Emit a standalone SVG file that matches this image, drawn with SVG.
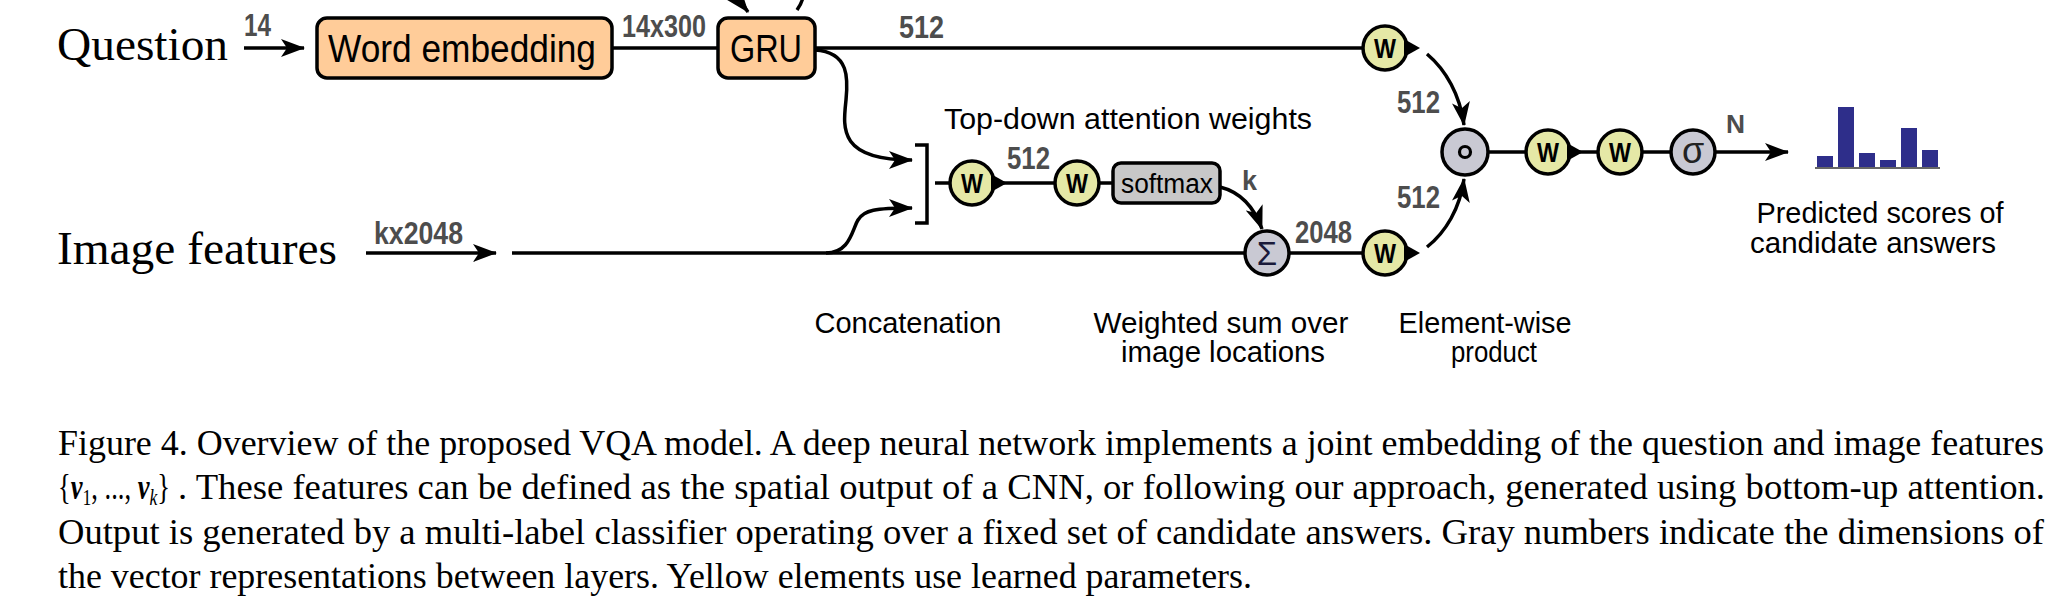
<svg xmlns="http://www.w3.org/2000/svg" width="2058" height="612" viewBox="0 0 2058 612">
<defs>
<marker id="ah" viewBox="0 0 24 18" refX="23" refY="9" markerWidth="24" markerHeight="18" markerUnits="userSpaceOnUse" orient="auto">
<path d="M0,0 L24,9 L0,18 L6,9 Z" fill="#000"/>
</marker>
<style>
.conn{fill:none;stroke:#000;stroke-width:3.5}
.arr{marker-end:url(#ah)}
.box{fill:#FFCC99;stroke:#000;stroke-width:3.5}
.sm{fill:#C8C8C8;stroke:#000;stroke-width:3.5}
.w circle{fill:#E5E8A6;stroke:#000;stroke-width:3.5}
.g circle{fill:#C9C9D3;stroke:#000;stroke-width:3.5}
.tip{fill:#000}
.wt{font-family:"Liberation Sans",Arial,sans-serif;font-weight:bold;font-size:27px;text-anchor:middle;fill:#000}
.dim{font-family:"Liberation Sans",Arial,sans-serif;font-weight:bold;font-size:31px;fill:#4D4D4D}
.lbl{font-family:"Liberation Sans",Arial,sans-serif;font-size:30px;fill:#000}
.big{font-family:"Liberation Serif","Times New Roman",serif;font-size:47px;fill:#000}
.cap{font-family:"Liberation Serif","Times New Roman",serif;font-size:36px;fill:#000}
.mid{text-anchor:middle}
</style>
</defs>

<g id="connectors">
<path class="conn arr" d="M244 48 L304 48"/>
<path class="conn" d="M612 48 L718 48"/>
<path class="conn" d="M815 48 L1363 48"/>
<path class="conn arr" d="M797 10 C815 -15 790 -30 768 -28 C745 -26 732 -8 748 12"/>
<path class="conn arr" d="M815 50 C850 52 848 80 846 100 C843 128 838 160 912 160"/>
<path class="conn arr" d="M826 253 C850 253 852 230 858 220 C864 210 875 208 912 208"/>
<path class="conn" d="M915 145 L927 145 L927 223 L915 223"/>
<path class="conn arr" d="M366 253 L496 253"/>
<path class="conn" d="M512 253 L1385 253"/>
<path class="conn" d="M935 183 L1113 183"/>
<path class="conn arr" d="M1220 187 C1240 192 1254 207 1262 229"/>
<path class="conn arr" d="M1427 54 C1446 70 1460 95 1464 125"/>
<path class="conn arr" d="M1427 247 C1446 232 1460 208 1464 179"/>
<path class="conn" d="M1465 152 L1693 152"/>
<path class="conn arr" d="M1715 152 L1788 152"/>
</g>

<g id="question">
<text class="big" x="57" y="60" textLength="171" lengthAdjust="spacingAndGlyphs">Question</text>
</g>
<g id="image-features">
<text class="big" x="57" y="264" textLength="280" lengthAdjust="spacingAndGlyphs">Image features</text>
</g>

<g id="word-embedding">
<rect class="box" x="317" y="18" width="295" height="60" rx="10"/>
<text class="lbl mid" x="462" y="62" textLength="268" lengthAdjust="spacingAndGlyphs" style="font-size:39px">Word embedding</text>
</g>

<g id="gru">
<rect class="box" x="718" y="18" width="97" height="60" rx="10"/>
<text class="lbl mid" x="766" y="62" textLength="72" lengthAdjust="spacingAndGlyphs" style="font-size:39px">GRU</text>
</g>

<g id="w-question" class="w">
<circle cx="1385" cy="48" r="22"/>
<path class="tip" d="M1404 39 L1420 48 L1404 57 Z"/>
<text class="wt" x="1385" y="58" textLength="22" lengthAdjust="spacingAndGlyphs">W</text>
</g>

<g id="w-att1" class="w">
<circle cx="972" cy="183" r="22"/>
<path class="tip" d="M991 174 L1007 183 L991 192 Z"/>
<text class="wt" x="972" y="193" textLength="22" lengthAdjust="spacingAndGlyphs">W</text>
</g>

<g id="w-att2" class="w">
<circle cx="1077" cy="183" r="22"/>
<text class="wt" x="1077" y="193" textLength="22" lengthAdjust="spacingAndGlyphs">W</text>
</g>

<g id="softmax">
<rect class="sm" x="1113" y="163" width="107" height="40" rx="8"/>
<text class="lbl mid" x="1167" y="193" textLength="92" lengthAdjust="spacingAndGlyphs" style="font-size:27px">softmax</text>
</g>

<g id="weighted-sum" class="g">
<circle cx="1267" cy="253" r="22"/>
<text x="1267" y="265" text-anchor="middle" font-family="Liberation Sans, Arial, sans-serif" font-size="33" fill="#1A1A3A">Σ</text>
</g>

<g id="w-image" class="w">
<circle cx="1385" cy="253" r="22"/>
<path class="tip" d="M1404 244 L1420 253 L1404 262 Z"/>
<text class="wt" x="1385" y="263" textLength="22" lengthAdjust="spacingAndGlyphs">W</text>
</g>

<g id="product" class="g">
<circle cx="1465" cy="152" r="23"/>
<circle cx="1465" cy="152" r="5.5" style="fill:none;stroke:#000;stroke-width:3.2"/>
</g>

<g id="w-out1" class="w">
<circle cx="1548" cy="152" r="22"/>
<path class="tip" d="M1567 143 L1583 152 L1567 161 Z"/>
<text class="wt" x="1548" y="162" textLength="22" lengthAdjust="spacingAndGlyphs">W</text>
</g>

<g id="w-out2" class="w">
<circle cx="1620" cy="152" r="22"/>
<text class="wt" x="1620" y="162" textLength="22" lengthAdjust="spacingAndGlyphs">W</text>
</g>

<g id="sigmoid" class="g">
<circle cx="1693" cy="152" r="22"/>
<text x="1693" y="163" text-anchor="middle" font-family="Liberation Sans, Arial, sans-serif" font-size="36" fill="#222">σ</text>
</g>

<g id="scores">
<rect x="1817" y="156" width="16" height="11" fill="#2E2E8A"/>
<rect x="1838" y="107" width="16" height="60" fill="#2E2E8A"/>
<rect x="1859" y="153" width="16" height="14" fill="#2E2E8A"/>
<rect x="1880" y="160" width="16" height="7" fill="#2E2E8A"/>
<rect x="1901" y="128" width="16" height="39" fill="#2E2E8A"/>
<rect x="1922" y="150" width="16" height="17" fill="#2E2E8A"/>
<path d="M1815 168 L1940 168" stroke="#666" stroke-width="2"/>
<text class="lbl mid" x="1880" y="223" textLength="247" lengthAdjust="spacingAndGlyphs" style="font-size:30px">Predicted scores of</text>
<text class="lbl mid" x="1873" y="253" textLength="246" lengthAdjust="spacingAndGlyphs" style="font-size:30px">candidate answers</text>
</g>

<g id="dims">
<text class="dim" x="244" y="36" textLength="27" lengthAdjust="spacingAndGlyphs">14</text>
<text class="dim" x="622" y="37" textLength="84" lengthAdjust="spacingAndGlyphs">14x300</text>
<text class="dim" x="899" y="38" textLength="45" lengthAdjust="spacingAndGlyphs">512</text>
<text class="dim" x="374" y="244" textLength="89" lengthAdjust="spacingAndGlyphs">kx2048</text>
<text class="dim" x="1007" y="169" textLength="43" lengthAdjust="spacingAndGlyphs">512</text>
<text class="dim" x="1242" y="190" textLength="15" lengthAdjust="spacingAndGlyphs" style="font-size:27px">k</text>
<text class="dim" x="1295" y="243" textLength="57" lengthAdjust="spacingAndGlyphs">2048</text>
<text class="dim" x="1397" y="113" textLength="43" lengthAdjust="spacingAndGlyphs">512</text>
<text class="dim" x="1397" y="208" textLength="43" lengthAdjust="spacingAndGlyphs">512</text>
<text class="dim" x="1726" y="133" style="font-size:26px" textLength="19" lengthAdjust="spacingAndGlyphs">N</text>
</g>

<g id="labels">
<text class="lbl" x="944" y="129" textLength="368" lengthAdjust="spacingAndGlyphs">Top-down attention weights</text>
<text class="lbl mid" x="908" y="333" textLength="187" lengthAdjust="spacingAndGlyphs">Concatenation</text>
<text class="lbl mid" x="1221" y="333" textLength="255" lengthAdjust="spacingAndGlyphs">Weighted sum over</text>
<text class="lbl mid" x="1223" y="362" textLength="204" lengthAdjust="spacingAndGlyphs">image locations</text>
<text class="lbl mid" x="1485" y="333" textLength="173" lengthAdjust="spacingAndGlyphs">Element-wise</text>
<text class="lbl mid" x="1494" y="362" textLength="86" lengthAdjust="spacingAndGlyphs">product</text>
</g>

<g id="caption">
<text class="cap" x="58" y="455" textLength="1986" lengthAdjust="spacingAndGlyphs">Figure 4. Overview of the proposed VQA model. A deep neural network implements a joint embedding of the question and image features</text>
<text class="cap" x="58" y="499" textLength="112" lengthAdjust="spacingAndGlyphs">{<tspan font-weight="bold" font-style="italic">v</tspan><tspan font-size="24" dy="6">1</tspan><tspan dy="-6">, ..., </tspan><tspan font-weight="bold" font-style="italic">v</tspan><tspan font-size="24" font-style="italic" dy="6">k</tspan><tspan dy="-6">}</tspan></text>
<text class="cap" x="178" y="499" textLength="1867" lengthAdjust="spacingAndGlyphs">. These features can be defined as the spatial output of a CNN, or following our approach, generated using bottom-up attention.</text>
<text class="cap" x="58" y="544" textLength="1986" lengthAdjust="spacingAndGlyphs">Output is generated by a multi-label classifier operating over a fixed set of candidate answers.  Gray numbers indicate the dimensions of</text>
<text class="cap" x="58" y="588" textLength="1194" lengthAdjust="spacingAndGlyphs">the vector representations between layers. Yellow elements use learned parameters.</text>
</g>
</svg>
